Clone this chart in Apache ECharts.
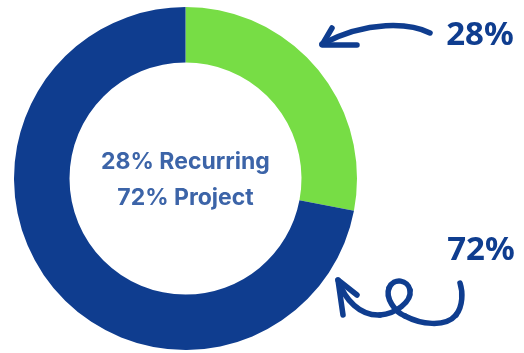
<!DOCTYPE html>
<html>
<head>
<meta charset="utf-8">
<script src="https://cdn.jsdelivr.net/npm/echarts@6/dist/echarts.min.js"></script>
<style>
  html, body { margin: 0; padding: 0; background: #ffffff; }
  #chart { width: 524px; height: 353px; }
</style>
</head>
<body>
<div id="chart"></div>
<script>
// Revenue mix
const categories = ['Recurring', 'Project'];
const shares = [28, 72];
const colors = ['#77dd45', '#0f3d8f'];

const ink = '#0f3d8f';
const centerInk = '#3c64a8';

const chart = echarts.init(document.getElementById('chart'), null, { renderer: 'canvas' });

const strokeStyle = {
  stroke: ink,
  lineWidth: 5.5,
  lineCap: 'round',
  lineJoin: 'round',
  fill: null
};

// cubic segment helper: [x1,y1, c1x,c1y, c2x,c2y, x2,y2]
function curve(p) {
  return {
    type: 'bezierCurve',
    shape: { x1: p[0], y1: p[1], cpx1: p[2], cpy1: p[3], cpx2: p[4], cpy2: p[5], x2: p[6], y2: p[7] },
    style: strokeStyle
  };
}
function poly(points) {
  return { type: 'polyline', shape: { points }, style: strokeStyle };
}

chart.setOption({
  animation: false,
  series: [{
    type: 'pie',
    center: [185.5, 178.5],
    radius: [116, 171.5],
    startAngle: 90,
    clockwise: true,
    silent: true,
    label: { show: false },
    labelLine: { show: false },
    itemStyle: { borderWidth: 0 },
    data: categories.map((name, i) => ({
      name,
      value: shares[i],
      itemStyle: { color: colors[i] }
    }))
  }],
  graphic: [
    // centre caption
    {
      type: 'text',
      style: {
        text: categories.map((c, i) => `${shares[i]}% ${c}`).join('\n'),
        x: 185.5,
        y: 180,
        align: 'center',
        verticalAlign: 'middle',
        fontFamily: 'Inter',
        fontWeight: 700,
        fontSize: 23,
        lineHeight: 36,
        fill: centerInk
      }
    },
    // percentage callouts
    {
      type: 'text',
      style: {
        text: `${shares[0]}%`,
        x: 480, y: 36,
        align: 'center', verticalAlign: 'middle',
        fontFamily: 'Noto Sans', fontWeight: 'bold', fontSize: 33,
        fill: ink
      }
    },
    {
      type: 'text',
      style: {
        text: `${shares[1]}%`,
        x: 481, y: 251,
        align: 'center', verticalAlign: 'middle',
        fontFamily: 'Noto Sans', fontWeight: 'bold', fontSize: 33,
        fill: ink
      }
    },
    // upper arrow
    curve([430, 33, 410, 23, 368, 20, 322, 44]),
    poly([[332, 28], [322, 45], [357, 45]]),
    // lower looped arrow
    curve([338, 280, 345, 300, 360, 316, 380, 315]),
    curve([380, 315, 395, 314, 412, 302, 410, 290]),
    curve([410, 290, 408, 280, 394, 277, 389, 288]),
    curve([389, 288, 385, 298, 395, 312, 405, 316]),
    curve([405, 316, 420, 324, 445, 328, 456, 315]),
    curve([456, 315, 463, 306, 463, 292, 460, 283]),
    poly([[343, 315], [338, 280], [357, 295]])
  ]
});
</script>
</body>
</html>
